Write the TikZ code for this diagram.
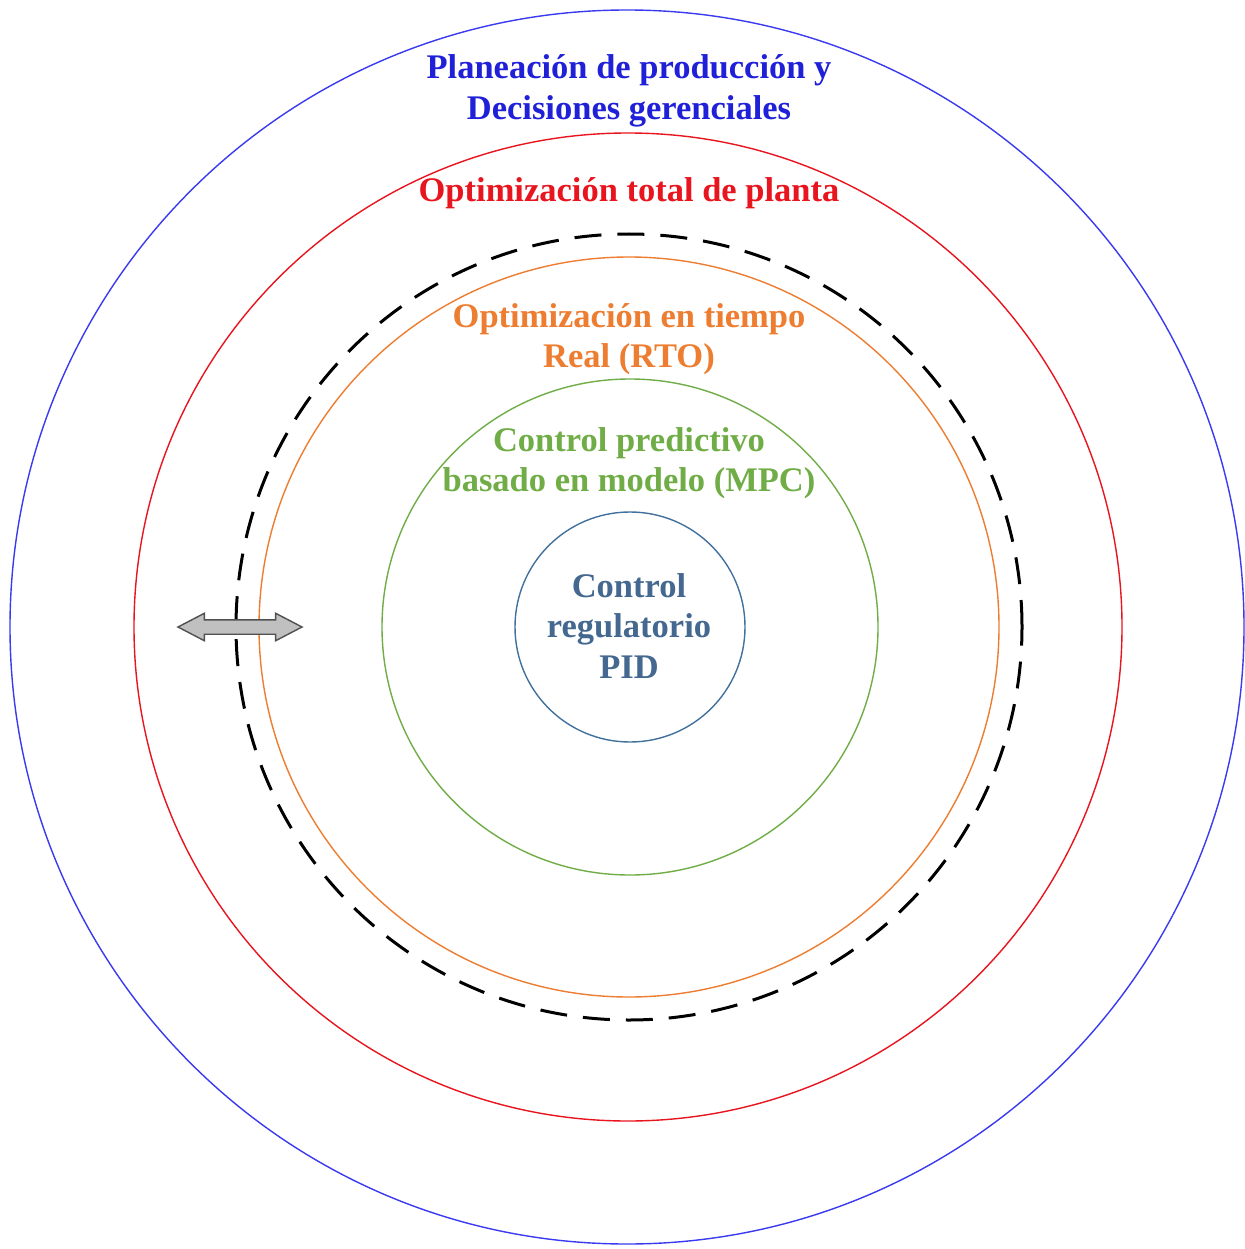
\documentclass[tikz,border=0pt]{standalone}
\usepackage{fontspec}
\setmainfont{Liberation Serif}
\usetikzlibrary{shapes.arrows}
\definecolor{cplan}{HTML}{2020D8}
\definecolor{cplanline}{HTML}{3A3AF0}
\definecolor{cred}{HTML}{E8141E}
\definecolor{corange}{HTML}{ED7D31}
\definecolor{cgreen}{HTML}{70AD47}
\definecolor{cpid}{HTML}{44688F}
\definecolor{cpidline}{HTML}{41719C}
\definecolor{carrowfill}{HTML}{C0C0C0}
\definecolor{carrowline}{HTML}{505050}
\tikzset{
  ring/.style={draw, circle, line width=1.4pt, inner sep=0pt},
  lbl/.style={font=\fontsize{34.5}{40.5}\selectfont\bfseries, align=center, inner sep=0pt},
}
\begin{document}
\begin{tikzpicture}[x=1pt,y=-1pt]
\useasboundingbox (0,0) rectangle (1244,1249);
\fill[white] (0,0) rectangle (1244,1249);
\node[ring, draw=cplanline, minimum size=1234pt] (c1) at (627,627) {};
\node[ring, draw=cred, minimum size=988pt] (c2) at (628,627) {};
\node[ring, draw=black, line width=3pt, dash pattern=on 27pt off 16pt, minimum size=786pt] (c3) at (629,627) {};
\node[ring, draw=corange, minimum size=740pt] (c4) at (629,627) {};
\node[ring, draw=cgreen, minimum size=496pt] (c5) at (630,627) {};
\node[ring, draw=cpidline, minimum size=230pt] (c6) at (630,627) {};
\node[lbl, text=cplan] (t1) at (629,91) {Planeación de producción y\\Decisiones gerenciales};
\node[lbl, text=cred] (t2) at (629,193) {Optimización total de planta};
\node[lbl, text=corange] (t3) at (629,339) {Optimización en tiempo\\Real (RTO)};
\node[lbl, text=cgreen] (t4) at (629,463) {Control predictivo\\basado en modelo (MPC)};
\node[lbl, text=cpid] (t5) at (629,626) {Control\\regulatorio\\PID};
\node[double arrow, draw=carrowline, fill=carrowfill, line width=1.4pt,
      inner xsep=0pt, inner ysep=6.5pt, minimum width=0pt, minimum height=124pt,
      double arrow head extend=6.5pt, double arrow tip angle=55] (arr) at (240,627) {};
\end{tikzpicture}
\end{document}
